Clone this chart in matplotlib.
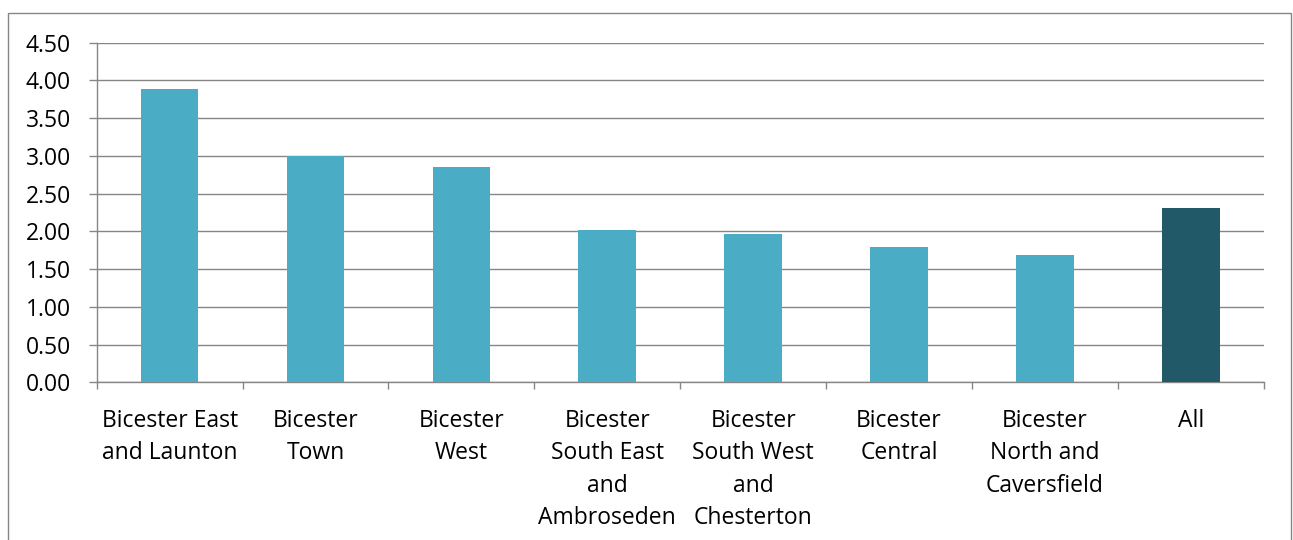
import matplotlib.pyplot as plt
import matplotlib.patches as mpatches
import numpy as np

plt.rcParams['font.family'] = ['Open Sans', 'DejaVu Sans']

# data
categories = ['Bicester East\nand Launton', 'Bicester\nTown', 'Bicester\nWest',
              'Bicester\nSouth East\nand\nAmbroseden', 'Bicester\nSouth West\nand\nChesterton',
              'Bicester\nCentral', 'Bicester\nNorth and\nCaversfield', 'All']
values = [3.88, 3.00, 2.85, 2.02, 1.96, 1.79, 1.69, 2.31]
bar_colors = ['#4BACC6'] * 7 + ['#215968']
y_ticks = [0.0, 0.5, 1.0, 1.5, 2.0, 2.5, 3.0, 3.5, 4.0, 4.5]

W, H = 1293, 540
fig = plt.figure(figsize=(W / 100, H / 100), dpi=100)
ax = fig.add_axes([96.7 / W, 1 - 382.3 / H, (1263.7 - 96.7) / W, (382.3 - 42.7) / H])

# outer chart frame
frame = mpatches.Rectangle((7.5 / W, -0.05), (1291 - 7.5) / W, 1.05 - 13.5 / H,
                           transform=fig.transFigure, fill=False,
                           edgecolor='#868686', linewidth=1.0)
fig.patches.append(frame)

x = np.arange(len(categories))
ax.bar(x, values, width=0.395, color=bar_colors, zorder=3)

ax.set_xlim(-0.5, len(categories) - 0.5)
ax.set_ylim(0, 4.5)
ax.set_yticks(y_ticks)
ax.set_yticklabels([f'{v:.2f}' for v in y_ticks], fontsize=16.5)
ax.grid(axis='y', color='#868686', linewidth=1.0, zorder=0)

ax.set_xticks(np.arange(len(categories) + 1) - 0.5)
ax.set_xticklabels([])
ax.set_xticks(x, minor=True)
ax.set_xticklabels(categories, minor=True, fontsize=16.5, linespacing=1.47)
ax.tick_params(axis='x', which='minor', length=0, pad=19)
ax.tick_params(axis='x', which='major', length=5, color='#868686', width=1)
ax.tick_params(axis='y', length=6, color='#868686', width=1, pad=12.5)

for side in ['top', 'right']:
    ax.spines[side].set_visible(False)
for side in ['left', 'bottom']:
    ax.spines[side].set_color('#868686')
    ax.spines[side].set_linewidth(1.0)

fig.savefig('out.png', dpi=100)
